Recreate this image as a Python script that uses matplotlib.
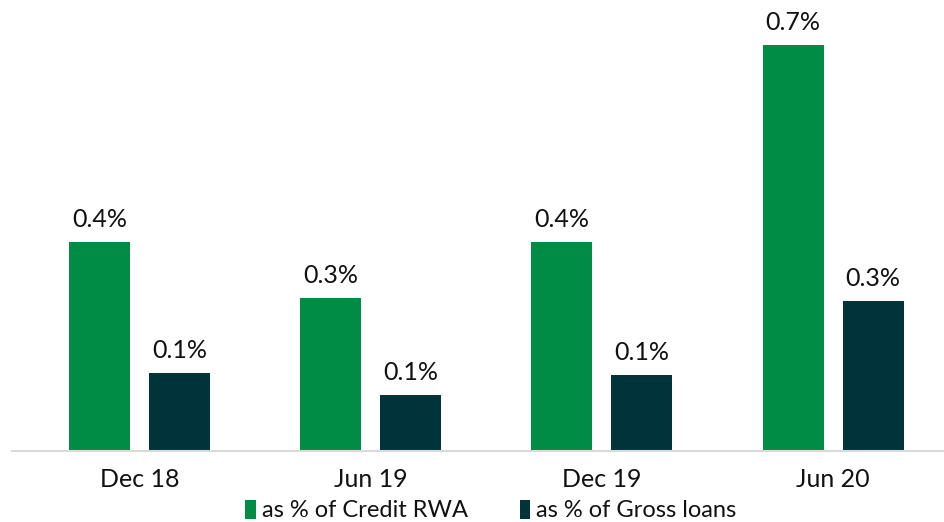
"""
Bar chart: loan impairment as % of credit RWA and gross loans.
"""
import matplotlib.pyplot as plt
import numpy as np

periods = ['Dec 18', 'Jun 19', 'Dec 19', 'Jun 20']
credit_rwa = [0.36, 0.264, 0.36, 0.70]
gross_loans = [0.134, 0.097, 0.131, 0.259]
series_names = ['as % of Credit RWA', 'as % of Gross loans']

GREEN = '#008C45'
DARK = '#00343A'

plt.rcParams['font.family'] = ['Lato', 'DejaVu Sans']

fig = plt.figure(figsize=(9.44, 5.22), dpi=100)
ax = fig.add_axes([0.013, 0.136, 0.987, 0.845])

x = np.arange(len(periods))
width = 0.264
off = 0.173

bars1 = ax.bar(x - off, credit_rwa, width, color=GREEN, label=series_names[0])
bars2 = ax.bar(x + off, gross_loans, width, color=DARK, label=series_names[1])

for bars, vals in ((bars1, credit_rwa), (bars2, gross_loans)):
    for b, v in zip(bars, vals):
        ax.annotate(f'{v:.1f}%', (b.get_x() + b.get_width() / 2, v),
                    xytext=(0, 8), textcoords='offset points',
                    ha='center', va='bottom', fontsize=18, color='#111111')

ax.set_xlim(-0.55, 3.48)
ax.set_ylim(0, 0.76)
ax.set_xticks(x)
ax.set_xticklabels(periods, fontsize=18, color='#111111')
ax.tick_params(axis='x', length=0, pad=12)
ax.set_yticks([])
for side in ('top', 'right', 'left'):
    ax.spines[side].set_visible(False)
ax.spines['bottom'].set_color('#D9D9D9')
ax.spines['bottom'].set_linewidth(1.5)

fig.legend(handles=[bars1, bars2], labels=series_names, loc='center',
           bbox_to_anchor=(0.52, 0.022), ncol=2, frameon=False, fontsize=17,
           handlelength=0.45, handleheight=0.9, handletextpad=0.25, columnspacing=2.2,
           labelcolor='#111111')

fig.savefig('out.png', dpi=100)
